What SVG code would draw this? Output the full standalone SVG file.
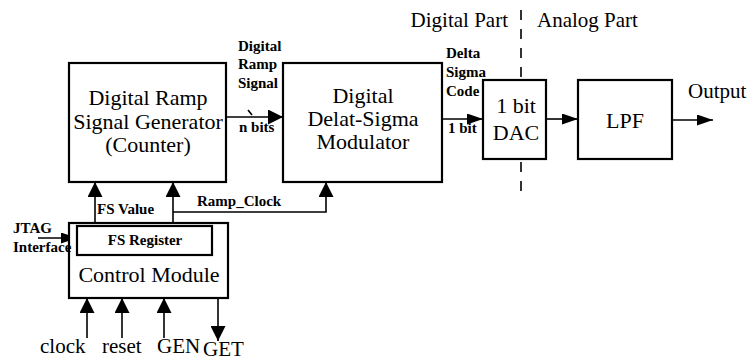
<svg xmlns="http://www.w3.org/2000/svg" width="751" height="360" viewBox="0 0 751 360" font-family="'Liberation Serif', 'Times New Roman', serif">
<defs>
<marker id="ah" viewBox="0 0 16 11" refX="16" refY="5.5" markerWidth="16" markerHeight="11" markerUnits="userSpaceOnUse" orient="auto"><path d="M0,0 L16,5.5 L0,11 z" fill="#000"/></marker>
<marker id="ahb" viewBox="0 0 15 15" refX="15" refY="7.5" markerWidth="15" markerHeight="15" markerUnits="userSpaceOnUse" orient="auto"><path d="M0,0 L15,7.5 L0,15 z" fill="#000"/></marker>
<style>
.box{fill:#fff;stroke:#000;stroke-width:2.2}
.ln{fill:none;stroke:#000;stroke-width:1.6}
.big{font-family:'Liberation Serif','Times New Roman',serif;font-size:22px;text-anchor:middle}
.sm{font-family:'Liberation Serif','Times New Roman',serif;font-size:15px;font-weight:bold}
.md{font-family:'Liberation Serif','Times New Roman',serif;font-size:21px}
.lab{font-family:'Liberation Serif','Times New Roman',serif;font-size:21px}
</style>
</defs>
<rect width="751" height="360" fill="#fff"/>
<g id="connectors">
<line class="ln" x1="226" y1="117" x2="283" y2="117" stroke-width="3" marker-end="url(#ahb)"/>
<line class="ln" x1="248" y1="110" x2="252" y2="115" stroke-width="1"/>
<line class="ln" x1="442" y1="119" x2="483" y2="119" marker-end="url(#ah)"/>
<line class="ln" x1="546" y1="119" x2="578" y2="119" marker-end="url(#ah)"/>
<line class="ln" x1="672" y1="120" x2="713" y2="120" marker-end="url(#ah)"/>
<line class="ln" x1="95" y1="223" x2="95" y2="182" stroke-width="2.2" marker-end="url(#ahb)"/>
<line class="ln" x1="173" y1="223" x2="173" y2="182" stroke-width="2.2" marker-end="url(#ahb)"/>
<polyline class="ln" points="173,212 326,212 326,182" stroke-width="2" marker-end="url(#ahb)"/>
<line class="ln" x1="38" y1="238" x2="77" y2="238" marker-end="url(#ah)"/>
<line class="ln" x1="87" y1="338" x2="87" y2="298" stroke-width="2.2" marker-end="url(#ahb)"/>
<line class="ln" x1="122" y1="338" x2="122" y2="298" stroke-width="2.2" marker-end="url(#ahb)"/>
<line class="ln" x1="164" y1="338" x2="164" y2="298" stroke-width="2.2" marker-end="url(#ahb)"/>
<line class="ln" x1="218" y1="298" x2="218" y2="341" stroke-width="2.2" marker-end="url(#ahb)"/>
<line class="ln" x1="521" y1="10" x2="521" y2="196" stroke-width="2" stroke-dasharray="10 9"/>
</g>
<g id="ramp-gen">
<rect class="box" x="69" y="63" width="157" height="119"/>
<text class="big" x="148" y="105">Digital Ramp</text>
<text class="big" x="148" y="129">Signal Generator</text>
<text class="big" x="148" y="152">(Counter)</text>
</g>
<g id="ds-mod">
<rect class="box" x="283" y="63" width="159" height="119"/>
<text class="big" x="363" y="103" font-size="21">Digital</text>
<text class="big" x="363" y="126" font-size="21">Delat-Sigma</text>
<text class="big" x="363" y="149" font-size="21">Modulator</text>
</g>
<g id="dac">
<rect class="box" x="483" y="80" width="63" height="79"/>
<text class="big" x="516" y="113">1 bit</text>
<text class="big" x="516" y="140">DAC</text>
</g>
<g id="lpf">
<rect class="box" x="578" y="80" width="94" height="79"/>
<text class="big" x="625" y="128">LPF</text>
</g>
<g id="control">
<rect class="box" x="69" y="223" width="159" height="75"/>
<text class="big" x="149" y="282">Control Module</text>
</g>
<g id="fs-register">
<rect class="box" x="77" y="226" width="135" height="29"/>
<text class="sm" x="145" y="245" text-anchor="middle" font-size="15.5">FS Register</text>
</g>
<g id="labels">
<text class="sm" x="238" y="51">Digital</text>
<text class="sm" x="238" y="69">Ramp</text>
<text class="sm" x="238" y="88">Signal</text>
<text class="sm" x="239" y="132">n bits</text>
<text class="sm" x="446" y="58">Delta</text>
<text class="sm" x="446" y="77">Sigma</text>
<text class="sm" x="446" y="96">Code</text>
<text class="sm" x="448" y="133">1 bit</text>
<text class="lab" x="688" y="98" font-size="22">Output</text>
<text class="md" x="508" y="27" text-anchor="end">Digital Part</text>
<text class="md" x="537" y="27">Analog Part</text>
<text class="sm" x="97" y="214">FS Value</text>
<text class="sm" x="197" y="206" font-size="15.5">Ramp_Clock</text>
<text class="sm" x="13" y="233" font-size="14">JTAG</text>
<text class="sm" x="13" y="252" font-size="14">Interface</text>
<text class="lab" x="40" y="353">clock</text>
<text class="lab" x="102" y="353">reset</text>
<text class="lab" x="157" y="353">GEN</text>
<text class="lab" x="203" y="356">GET</text>
</g>
</svg>
